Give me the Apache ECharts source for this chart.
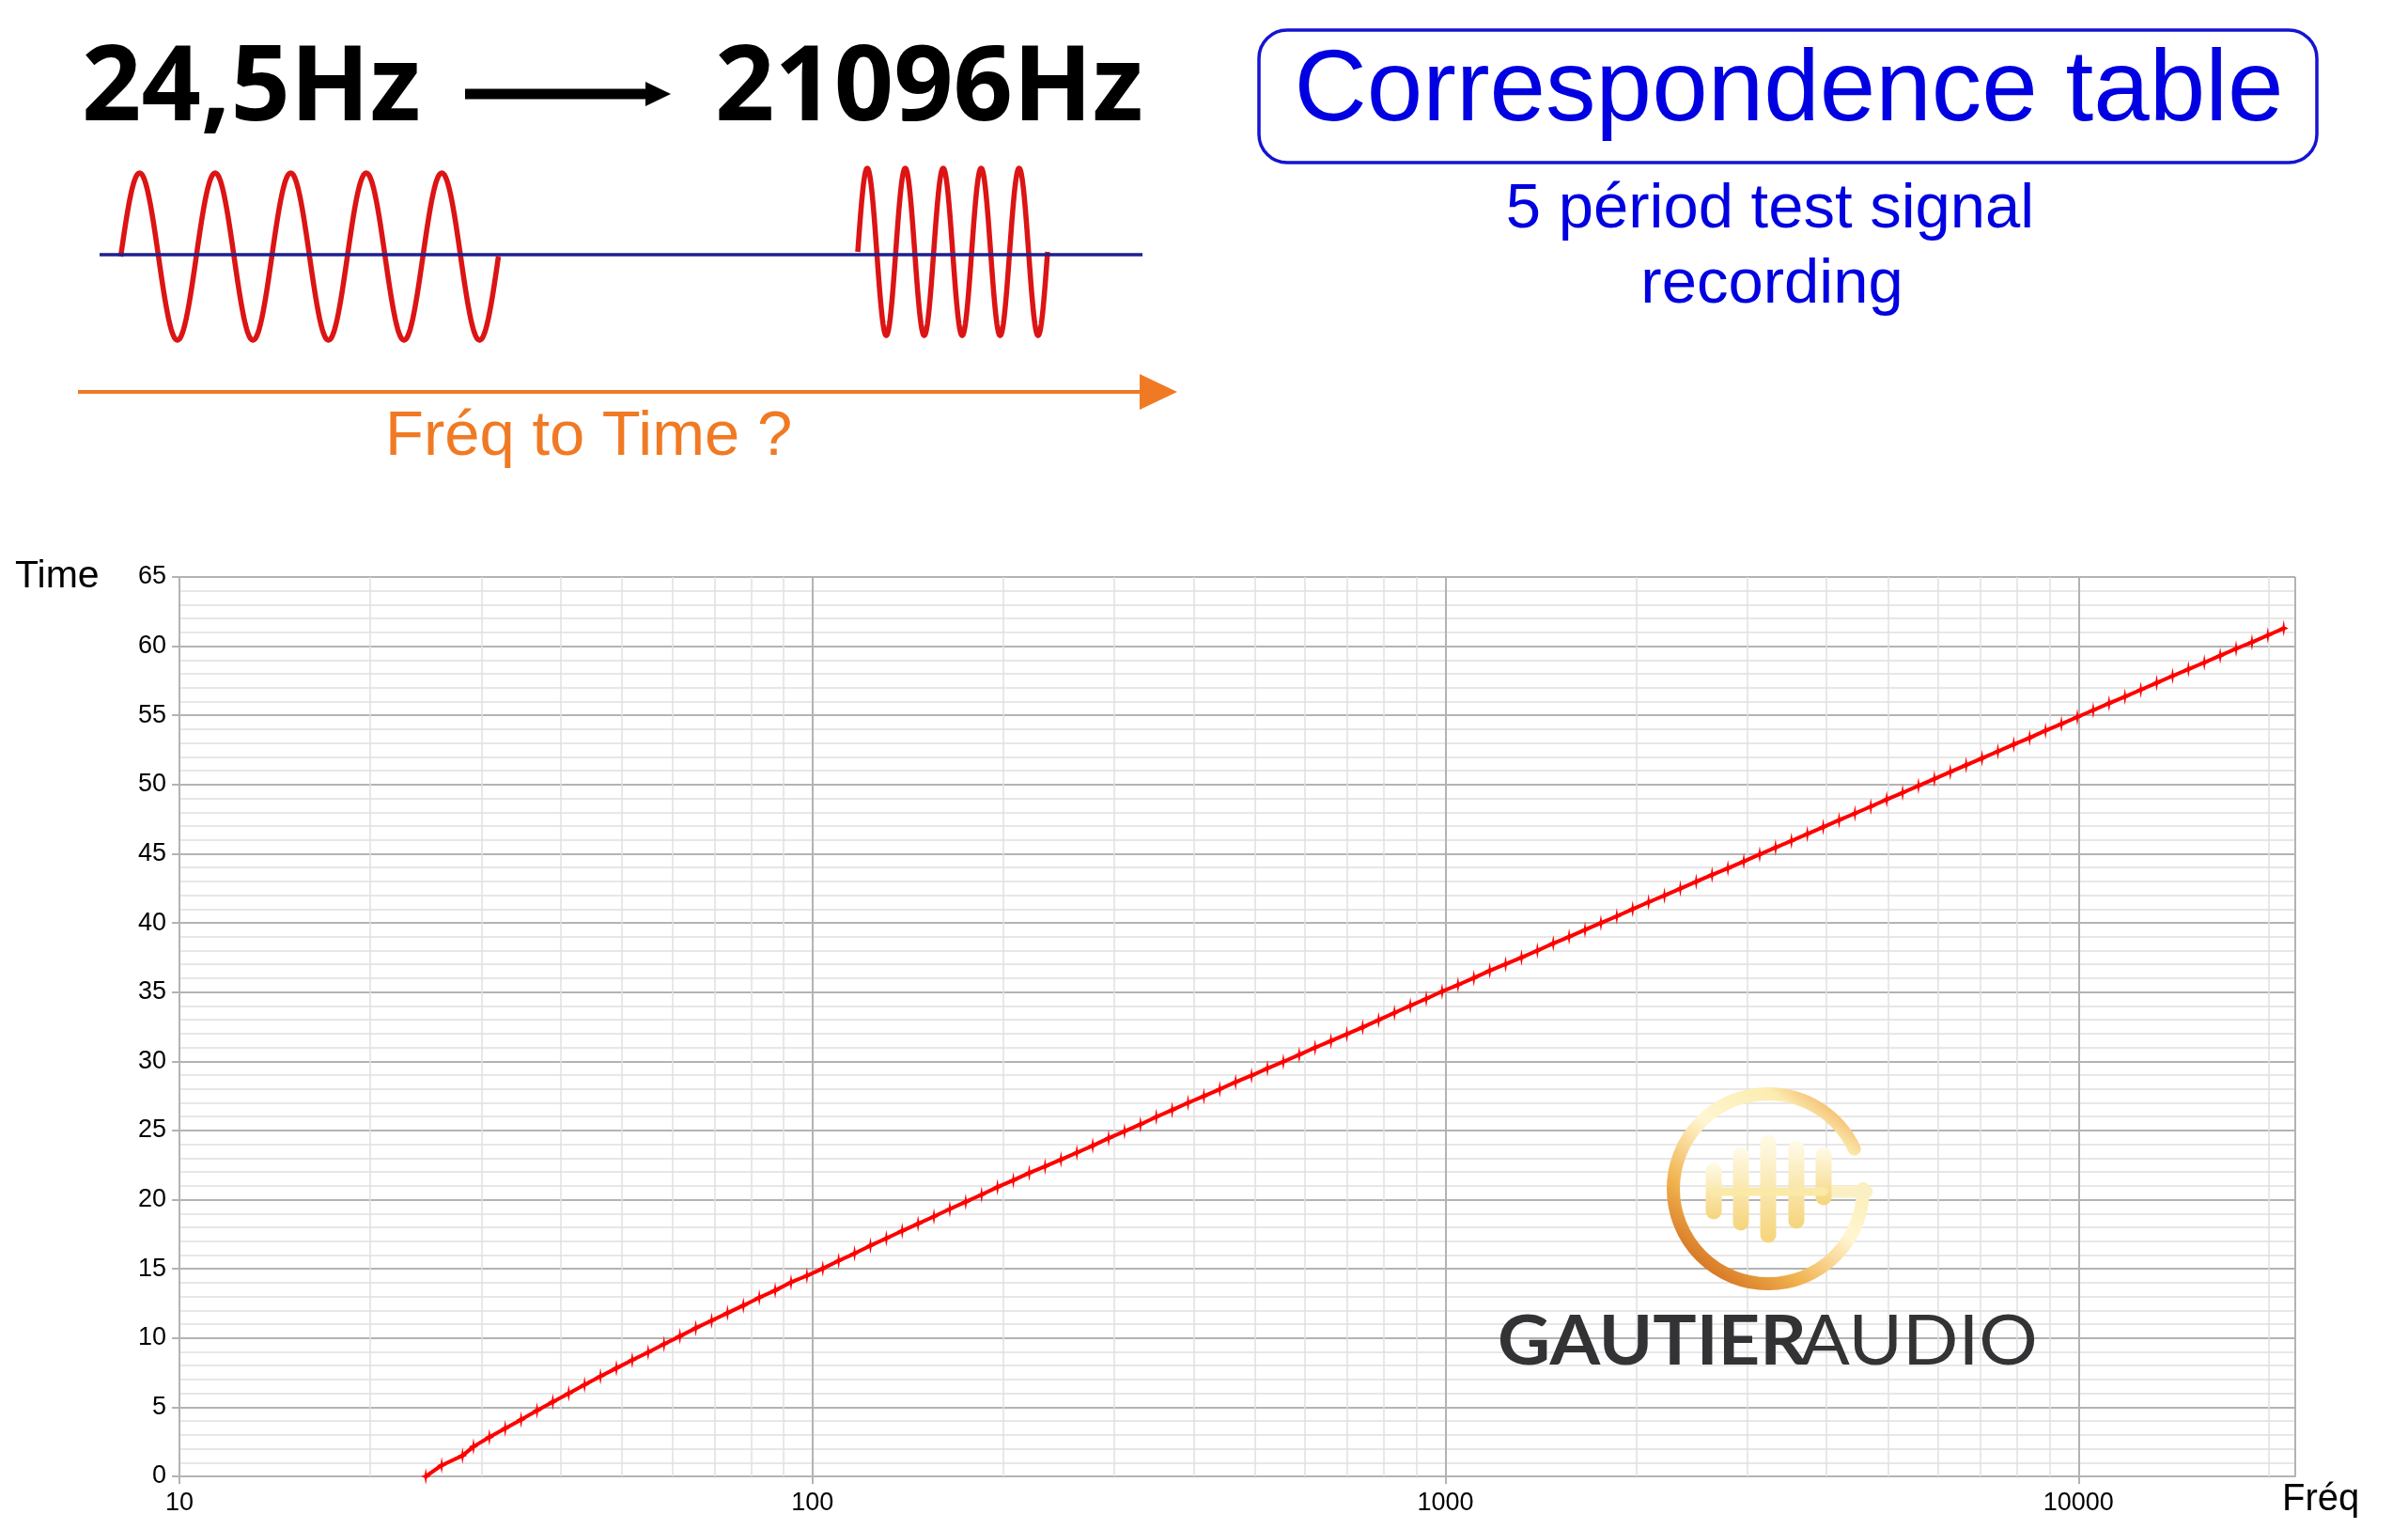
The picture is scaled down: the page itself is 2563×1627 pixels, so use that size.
<!DOCTYPE html>
<html><head><meta charset="utf-8">
<script src="https://cdn.jsdelivr.net/npm/echarts@6/dist/echarts.min.js"></script>
<style>html,body{margin:0;padding:0;background:#fff}#c{width:2563px;height:1627px}</style>
</head><body><div id="c"></div>
<script>
// ---- data ----
const freqHz = [24.50,25.96,28.00,29.14,30.87,
32.70,34.65,36.71,38.89,41.20,43.65,46.25,49.00,51.91,55.00,58.27,61.74,
65.41,69.30,73.42,77.78,82.41,87.31,92.50,98.00,103.83,110.00,116.54,123.47,
130.81,138.59,146.83,155.56,164.81,174.61,185.00,196.00,207.65,220.00,233.08,246.94,
261.63,277.18,293.66,311.13,329.63,349.23,369.99,392.00,415.30,440.00,466.16,493.88,
523.25,554.37,587.33,622.25,659.26,698.46,739.99,783.99,830.61,880.00,932.33,987.77,
1046.50,1108.73,1174.66,1244.51,1318.51,1396.91,1479.98,1567.98,1661.22,1760.00,1864.66,1975.53,
2093.00,2217.46,2349.32,2489.02,2637.02,2793.83,2959.96,3135.96,3322.44,3520.00,3729.31,3951.07,
4186.01,4434.92,4698.64,4978.03,5274.04,5587.65,5919.91,6271.93,6644.88,7040.00,7458.62,7902.13,
8372.02,8869.84,9397.27,9956.06,10548.08,11175.30,11839.82,12543.85,13289.75,14080.00,14917.24,15804.27,
16744.04,17739.69,18794.55,19912.13,21096.16];
const timeSec = [0,0.8,1.5,2.15,2.83,
3.47,4.1,4.76,5.39,6.0,6.62,7.23,7.82,8.41,8.97,9.56,10.13,
10.72,11.26,11.81,12.35,12.92,13.44,14.03,14.5,15.02,15.59,16.11,16.68,
17.2,17.74,18.26,18.78,19.32,19.84,20.36,20.91,21.4,21.93,22.4,22.9,
23.4,23.9,24.44,24.94,25.44,25.98,26.48,27.0,27.48,27.98,28.5,28.97,
29.49,29.97,30.47,30.99,31.47,31.96,32.46,32.98,33.5,34.02,34.52,35.05,
35.52,36.02,36.55,37.02,37.5,38.0,38.52,39.0,39.5,40.0,40.48,41.0,
41.5,41.98,42.48,42.98,43.48,43.95,44.45,44.95,45.45,45.93,46.43,46.93,
47.43,47.92,48.41,48.93,49.41,49.91,50.41,50.91,51.41,51.9,52.4,52.9,
53.38,53.9,54.38,54.88,55.37,55.87,56.35,56.85,57.35,57.85,58.34,58.82,
59.32,59.82,60.29,60.79,61.29];
const xTickLabels = ['10','100','1000','10000'];
const xMinorGrid = [20,30,40,50,60,70,80,90,200,300,400,500,600,700,800,900,
2000,3000,4000,5000,6000,7000,8000,9000,20000];
const xRange = [10, 22000];
const yRange = [0, 65];
const yStep = 5;

// ---- styling helpers ----
const LIB = 'Liberation Sans';
function T(text, x, base, size, color, o) {
  o = o || {};
  const k = o.mid || 0.35;
  return { type: 'text', x: x, y: base - k * size, scaleX: o.sx || 1, z: 20,
    style: { text: text, fill: color, fontSize: size, fontFamily: o.family || LIB,
      fontWeight: o.weight || 'normal', align: o.align || 'left', verticalAlign: 'middle' } };
}
function wave(x0, period, n, cy, amp) {
  const pts = [];
  const steps = n * 60;
  for (let i = 0; i <= steps; i++) {
    const t = i / 60;
    pts.push([x0 + t * period, cy - amp * Math.sin(2 * Math.PI * t)]);
  }
  return { type: 'polyline', z: 18, shape: { points: pts },
    style: { stroke: '#dc1414', lineWidth: 5.5, fill: null, lineJoin: 'round' } };
}
const ringGrad = new echarts.graphic.LinearGradient(0.1, 1, 0.9, 0, [
  { offset: 0, color: '#c9560c' }, { offset: 0.3, color: '#f1b450' },
  { offset: 0.55, color: '#fff6d2' }, { offset: 0.8, color: '#fbecb0' }, { offset: 1, color: '#ee9436' }]);
const barGrad = new echarts.graphic.LinearGradient(0, 1, 0, 0, [
  { offset: 0, color: '#f5d47a' }, { offset: 1, color: '#fffbe8' }]);
function bar(x, y1, y2) {
  return { type: 'line', z: 19, shape: { x1: x, y1: y1, x2: x, y2: y2 },
    style: { stroke: barGrad, lineWidth: 17, lineCap: 'round' } };
}

const graphics = [
  T('24,5Hz', 87, 140, 112, '#000', { weight: 'bold', family: 'Open Sans', sx: 0.99, mid: 0.388 }),
  T('21096Hz', 761, 140, 112, '#000', { weight: 'bold', family: 'Open Sans', sx: 0.99, mid: 0.388 }),
  { type: 'rect', z: 18, shape: { x: 495, y: 94.5, width: 195, height: 11 }, style: { fill: '#000' } },
  { type: 'polygon', z: 18, shape: { points: [[687, 87], [714, 100], [687, 113]] }, style: { fill: '#000' } },
  wave(128.5, 80.4, 5, 273, 89),
  wave(913, 40.4, 5, 268, 89),
  { type: 'line', z: 19, shape: { x1: 106, y1: 271, x2: 1216, y2: 271 }, style: { stroke: '#1f1f8c', lineWidth: 3.5 } },
  { type: 'line', z: 18, shape: { x1: 83, y1: 417, x2: 1216, y2: 417 }, style: { stroke: '#f07a24', lineWidth: 4 } },
  { type: 'polygon', z: 18, shape: { points: [[1213, 398], [1253, 417], [1213, 436]] }, style: { fill: '#f07a24' } },
  T('Fréq to Time ?', 410, 489, 67, '#f07a24'),
  { type: 'rect', z: 18, shape: { x: 1340, y: 32, width: 1126, height: 141, r: 30 },
    style: { fill: null, stroke: '#1414d2', lineWidth: 3.5 } },
  T('Correspondence table', 1904, 136, 107, '#0000e0', { align: 'center' }),
  T('5 périod test signal', 1884, 247, 67, '#0000e0', { align: 'center' }),
  T('recording', 1886, 327, 67, '#0000e0', { align: 'center' }),
  T('Time', 16, 628, 41, '#000'),
  T('Fréq', 2429, 1610, 40, '#000'),
  // logo
  { type: 'arc', z: 19, shape: { cx: 1882, cy: 1265, r: 101, startAngle: 0, endAngle: 5.85, clockwise: true },
    style: { stroke: ringGrad, lineWidth: 14, fill: null, lineCap: 'round' } },
  { type: 'line', z: 19, shape: { x1: 1987, y1: 1268, x2: 1945, y2: 1268 },
    style: { stroke: '#fbf0c4', lineWidth: 13, lineCap: 'round' } },
  bar(1824, 1246, 1289), bar(1853, 1229, 1301), bar(1882, 1216, 1314), bar(1912, 1222, 1299), bar(1941, 1229, 1274),
  { type: 'line', z: 19, shape: { x1: 1824, y1: 1268, x2: 1941, y2: 1268 },
    style: { stroke: '#fbe9a8', lineWidth: 9, lineCap: 'round' } },
  T('GAUTIER', 1594, 1457, 73, '#333336', { weight: 'bold', family: 'Lato', mid: 0.387, sx: 1.06 }),
  T('AUDIO', 1916, 1457, 73, '#333336', { weight: 'normal', family: 'Lato', mid: 0.387, sx: 1.07 })
];

const MAJ = '#b3b3b3', MIN = '#e0e0e0';
const chart = echarts.init(document.getElementById('c'), null, { renderer: 'canvas' });
chart.setOption({
  animation: false,
  backgroundColor: '#fff',
  grid: { left: 191, right: 120, top: 614, bottom: 56, containLabel: false },
  xAxis: {
    type: 'log', logBase: 10, min: xRange[0], max: xRange[1],
    axisLine: { show: true, lineStyle: { color: MAJ, width: 2 } },
    axisTick: { show: true, length: 8, lineStyle: { color: MAJ, width: 2 } },
    axisLabel: { show: true, margin: 15, fontSize: 27, fontFamily: LIB, color: '#000', showMaxLabel: false,
      formatter: function (v) { const s = String(Math.round(v)); return xTickLabels.indexOf(s) >= 0 ? s : ''; } },
    splitLine: { show: true, lineStyle: { color: MAJ, width: 2 } }
  },
  yAxis: {
    type: 'value', min: yRange[0], max: yRange[1], interval: yStep,
    axisLine: { show: true, lineStyle: { color: MAJ, width: 2 } },
    axisTick: { show: true, length: 8, lineStyle: { color: MAJ, width: 2 } },
    axisLabel: { margin: 14, fontSize: 27, fontFamily: LIB, color: '#000' },
    splitLine: { show: true, lineStyle: { color: MAJ, width: 2 } },
    minorTick: { show: false, splitNumber: 5 },
    minorSplitLine: { show: true, lineStyle: { color: MIN, width: 1.5 } }
  },
  graphic: graphics,
  series: [
    { type: 'line', data: [], silent: true, z: 1,
      markLine: { silent: true, z: 1, symbol: ['none', 'none'], label: { show: false },
        lineStyle: { color: MIN, width: 1.5, type: 'solid' },
        emphasis: { disabled: true },
        data: xMinorGrid.map(v => ({ xAxis: v })) } },
    { type: 'line', z: 5,
      data: freqHz.map((f, i) => [f, timeSec[i]]),
      showAllSymbol: true,
      symbol: 'path://M5,0 L6.2,4 L10,5 L6.2,6 L5,10 L3.8,6 L0,5 L3.8,4 Z',
      symbolSize: [10, 18],
      itemStyle: { color: '#ff0000' },
      lineStyle: { color: '#ff0000', width: 4 } }
  ]
});
</script></body></html>
